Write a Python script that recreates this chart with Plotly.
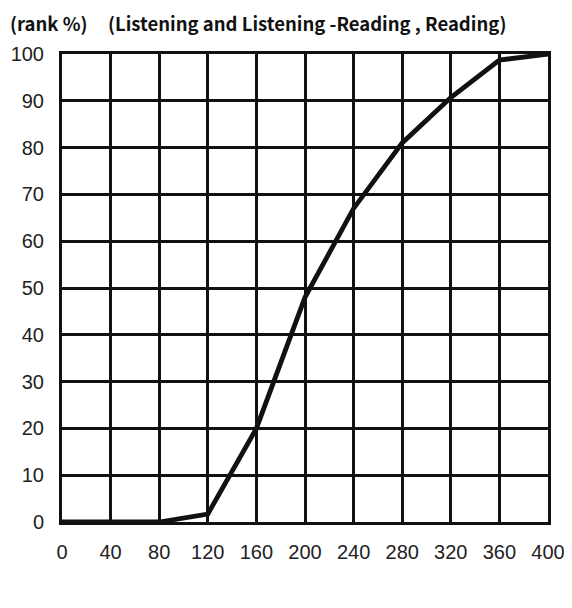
import plotly.graph_objects as go

scores = [0, 40, 80, 120, 160, 200, 240, 280, 320, 360, 400]
rank_pct = [0, 0, 0, 1.7, 20, 48, 67, 81, 90.7, 98.7, 100]
x_ticks = [0, 40, 80, 120, 160, 200, 240, 280, 320, 360, 400]
y_ticks = [0, 10, 20, 30, 40, 50, 60, 70, 80, 90, 100]

L, T, PW, PH = 54, 46, 486, 468

fig = go.Figure()
fig.add_trace(go.Scatter(x=scores, y=rank_pct, mode="lines",
                         line=dict(color="#111111", width=4.8), showlegend=False,
                         cliponaxis=False))

axis_common = dict(showgrid=True, gridcolor="#111111", gridwidth=2.5,
                   showline=True, linecolor="#111111", linewidth=3, mirror=True,
                   zeroline=False, ticks="",
                   tickfont=dict(family="Liberation Sans, Arial, sans-serif", size=20, color="#222222"))

fig.update_xaxes(range=[0, 400], tickvals=x_ticks, ticktext=[str(v) for v in x_ticks],
                 ticklabelstandoff=10, **axis_common)
fig.update_yaxes(range=[0, 100], tickvals=y_ticks, ticktext=[str(v) for v in y_ticks],
                 ticklabelstandoff=11, **axis_common)

title_font = dict(family="Noto Sans CJK JP, sans-serif", size=18.5, color="#111111")
fig.add_annotation(text="<b>(rank %)</b>", xref="paper", yref="paper", x=-54 / PW, y=1 + 31 / PH,
                   xanchor="left", yanchor="middle", showarrow=False, font=title_font)
fig.add_annotation(text="<b>(Listening and Listening -Reading , Reading)</b>", xref="paper", yref="paper",
                   x=44 / PW, y=1 + 31 / PH, xanchor="left", yanchor="middle", showarrow=False,
                   font=title_font)

fig.update_layout(width=572, height=608,
                  margin=dict(l=L, r=572 - L - PW, t=T, b=608 - T - PH, autoexpand=False),
                  paper_bgcolor="white", plot_bgcolor="white")

fig.write_html("out.html")
